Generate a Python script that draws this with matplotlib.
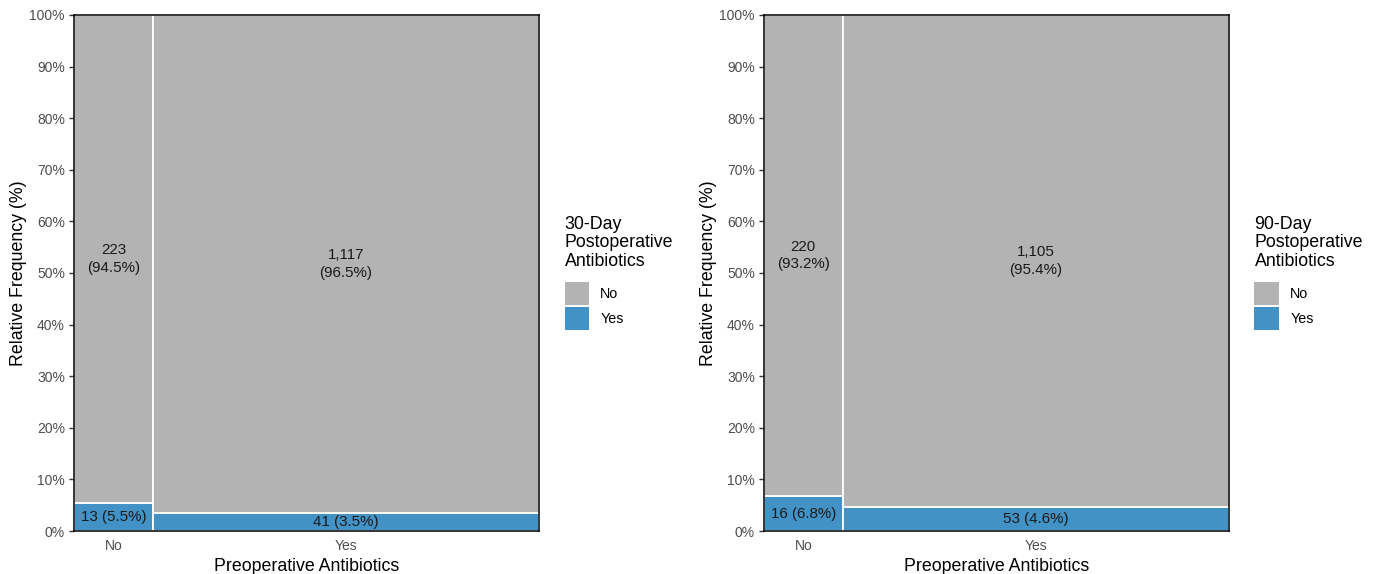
import matplotlib
matplotlib.use("Agg")
import matplotlib.pyplot as plt
from matplotlib.patches import Patch

plt.rcParams["font.family"] = ["Liberation Sans", "DejaVu Sans"]

# preoperative antibiotics groups (x axis)
pre_groups = ["No", "Yes"]

# counts of postoperative antibiotics (No / Yes) within each preoperative group
post30_no = [223, 1117]
post30_yes = [13, 41]
post90_no = [220, 1105]
post90_yes = [16, 53]

legend_titles = ["30-Day\nPostoperative\nAntibiotics", "90-Day\nPostoperative\nAntibiotics"]

col_no = "#B3B3B3"
col_yes = "#4292C6"


def fmt_count(n):
    return "{:,}".format(n)


def mosaic(ax, counts_no, counts_yes, leg_title):
    totals = [a + b for a, b in zip(counts_no, counts_yes)]
    grand = sum(totals)
    x0 = 0
    centers = []
    for n_no, n_yes, tot in zip(counts_no, counts_yes, totals):
        p_yes = n_yes / tot
        p_no = n_no / tot
        ax.bar(x0, p_yes, width=tot, align="edge", color=col_yes,
               edgecolor="white", linewidth=1.3)
        ax.bar(x0, p_no, bottom=p_yes, width=tot, align="edge", color=col_no,
               edgecolor="white", linewidth=1.3)
        cx = x0 + tot / 2
        centers.append(cx)
        ax.text(cx, p_yes / 2, "%s (%.1f%%)" % (fmt_count(n_yes), p_yes * 100),
                ha="center", va="center", fontsize=10.9, color="#1a1a1a")
        ax.text(cx, p_yes + p_no / 2, "%s\n(%.1f%%)" % (fmt_count(n_no), p_no * 100),
                ha="center", va="center", fontsize=10.9, color="#1a1a1a",
                linespacing=1.35)
        x0 += tot

    ax.set_xlim(0, grand)
    ax.set_ylim(0, 1)
    ax.set_xticks(centers)
    ax.set_xticklabels(pre_groups)
    ax.set_yticks([i / 10 for i in range(11)])
    ax.set_yticklabels(["%d%%" % (i * 10) for i in range(11)])
    ax.tick_params(axis="x", length=0, pad=6, labelsize=10, labelcolor="#4D4D4D")
    ax.tick_params(axis="y", length=3.5, width=1, color="#333333", pad=3,
                   labelsize=10, labelcolor="#4D4D4D")
    for s in ax.spines.values():
        s.set_color("black")
        s.set_linewidth(1.1)
    ax.set_xlabel("Preoperative Antibiotics", fontsize=12.8, labelpad=3)
    ax.set_ylabel("Relative Frequency (%)", fontsize=12.8, labelpad=2)

    handles = [Patch(facecolor=col_no, edgecolor="none", label="No"),
               Patch(facecolor=col_yes, edgecolor="none", label="Yes")]
    leg = ax.legend(handles=handles, title=leg_title, loc="center left",
                    bbox_to_anchor=(1.055, 0.5), frameon=False, fontsize=10.3,
                    title_fontsize=12.8, handlelength=1.7, handleheight=2.1,
                    handletextpad=0.8, labelspacing=0.2, borderpad=0,
                    borderaxespad=0)
    leg._legend_box.align = "left"
    leg._legend_box.sep = 8
    leg.get_title().set_linespacing(1.15)


fig = plt.figure(figsize=(13.78, 5.74), dpi=100)
ax1 = fig.add_axes([0.0537, 0.0749, 0.3374, 0.899])
ax2 = fig.add_axes([0.5544, 0.0749, 0.3374, 0.899])

mosaic(ax1, post30_no, post30_yes, legend_titles[0])
mosaic(ax2, post90_no, post90_yes, legend_titles[1])

fig.savefig("out.png", dpi=100)
